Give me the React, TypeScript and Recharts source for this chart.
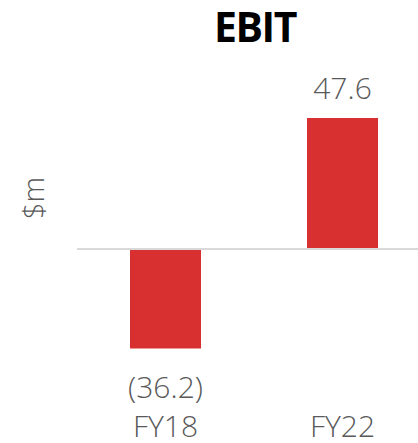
import React from "react";
import { BarChart, Bar, XAxis, YAxis, ReferenceLine, LabelList } from "recharts";

const categories = ["FY18", "FY22"];
const ebitValues = [-36.2, 47.6];
const chartTitle = "EBIT";
const unitLabel = "$m";

const data = categories.map((c, i) => ({ name: c, value: ebitValues[i] }));

const FONT = "'Open Sans', 'Noto Sans', sans-serif";
const GREY = "#595959";
const RED = "#D83030";

const fmt = (v: number) => (v < 0 ? `(${Math.abs(v).toFixed(1)})` : v.toFixed(1));

const ValueLabel = (props: any) => {
  const { x, y, width, height, value } = props;
  const top = Math.min(y, y + height);
  const bottom = Math.max(y, y + height);
  const cx = x + width / 2;
  const neg = value < 0;
  return (
    <text
      x={cx}
      y={neg ? bottom + 49 : top - 19}
      textAnchor="middle"
      fontFamily={FONT}
      fontSize={30}
      fontWeight={300}
      fill={GREY}
    >
      {fmt(value)}
    </text>
  );
};

const CatTick = (props: any) => {
  const { x, y, payload } = props;
  return (
    <text
      x={x}
      y={y + 88.4}
      textAnchor="middle"
      fontFamily={FONT}
      fontSize={30}
      fontWeight={300}
      fill={GREY}
    >
      {payload.value}
    </text>
  );
};

const UnitLabel = (props: any) => {
  const { viewBox } = props;
  const cx = viewBox.x + 32;
  const cy = viewBox.y + 80;
  return (
    <text
      x={cx}
      y={cy}
      transform={`rotate(-90 ${cx} ${cy})`}
      textAnchor="middle"
      dominantBaseline="central"
      fontFamily={FONT}
      fontSize={29}
      fontWeight={300}
      fill={GREY}
    >
      {unitLabel}
    </text>
  );
};

export default function App() {
  return (
    <div
      style={{
        position: "absolute",
        left: 0,
        top: 0,
        width: 418,
        height: 443,
        overflow: "hidden",
        background: "#fff",
      }}
    >
      <div style={{ position: "absolute", left: 0, top: 0 }}>
        <BarChart
          width={431}
          height={443}
          data={data}
          margin={{ top: 118, right: 0, bottom: 0, left: 0 }}
          barCategoryGap={53}
        >
          <YAxis
            domain={[-36.2, 47.6]}
            width={77}
            axisLine={false}
            tickLine={false}
            tick={false}
            label={<UnitLabel />}
          />
          <XAxis
            dataKey="name"
            axisLine={false}
            tickLine={false}
            tickSize={0}
            tickMargin={0}
            height={94.4}
            tick={<CatTick />}
            interval={0}
          />
          <ReferenceLine y={0} stroke="#D9D9D9" strokeWidth={2} />
          <Bar dataKey="value" fill={RED} barSize={71} isAnimationActive={false}>
            <LabelList dataKey="value" content={<ValueLabel />} />
          </Bar>
        </BarChart>
      </div>
      <svg
        width={418}
        height={443}
        style={{ position: "absolute", left: 0, top: 0, pointerEvents: "none" }}
      >
        <text
          x={255}
          y={42}
          textAnchor="middle"
          fontFamily={FONT}
          fontSize={41}
          fontWeight={700}
          letterSpacing={-1.5}
          fill="#000"
        >
          {chartTitle}
        </text>
      </svg>
    </div>
  );
}
